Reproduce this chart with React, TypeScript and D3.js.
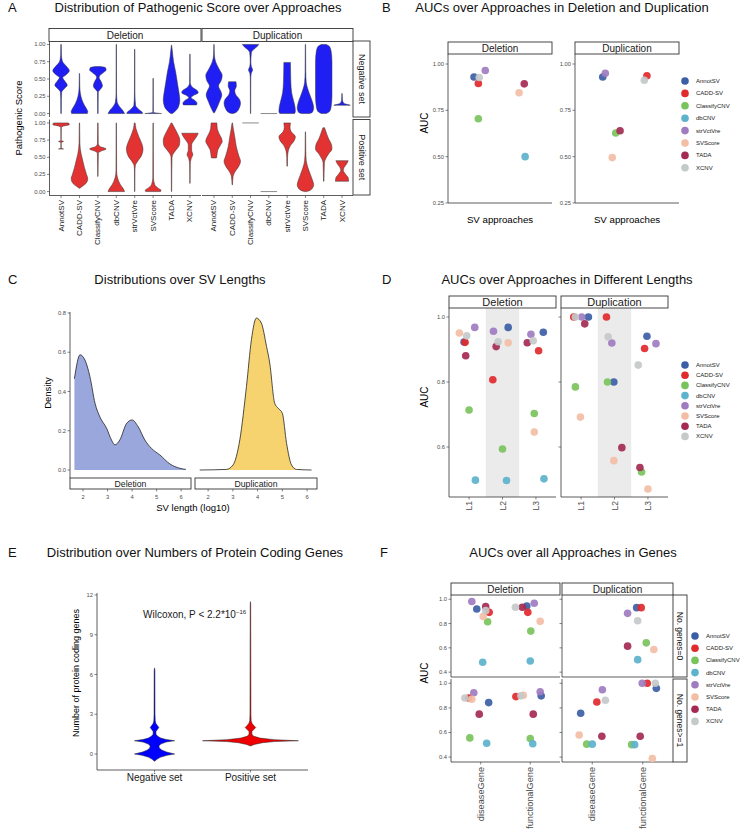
import React from 'react';
import * as d3 from 'd3';

// ---- shared categories ----
const approaches = ['AnnotSV', 'CADD-SV', 'ClassifyCNV', 'dbCNV', 'strVctVre', 'SVScore', 'TADA', 'XCNV'];
const approachColors = ['#3c5ea6', '#e12a2c', '#79c35c', '#5db2cc', '#9f7cc0', '#f2bea6', '#a52a52', '#c4c9c9'];
const svTypes = ['Deletion', 'Duplication'];
const setNames = ['Negative set', 'Positive set'];

// ---- A: violin profiles [score, relative density] per approach ----
const scoreDelNeg = [
  [[1.0, 0.03], [0.85, 0.05], [0.76, 0.15], [0.69, 0.6], [0.62, 1.0], [0.56, 0.6], [0.52, 0.2], [0.47, 0.45], [0.41, 0.75], [0.36, 0.4], [0.31, 0.08], [0.2, 0.04], [0, 0.03]],
  [[0.58, 0.02], [0.4, 0.04], [0.3, 0.1], [0.2, 0.3], [0.12, 0.6], [0.06, 0.9], [0.03, 1.0], [0, 0.95]],
  [[0.68, 0.3], [0.665, 0.9], [0.63, 1.0], [0.6, 0.75], [0.55, 0.25], [0.52, 0.15], [0.46, 0.4], [0.4, 0.55], [0.35, 0.3], [0.31, 0.05], [0, 0.03]],
  [[1.0, 0.02], [0.3, 0.03], [0.17, 0.1], [0.1, 0.4], [0.05, 0.75], [0, 1.0]],
  [[0.93, 0.02], [0.3, 0.03], [0.12, 0.1], [0.06, 0.5], [0.02, 0.9], [0, 0.95]],
  [[0.51, 0.02], [0.02, 0.03], [0.005, 0.6], [0, 1.0]],
  [[0.99, 0.02], [0.9, 0.1], [0.75, 0.25], [0.6, 0.5], [0.45, 0.7], [0.3, 0.9], [0.2, 1.0], [0.1, 0.85], [0.04, 0.5], [0, 0.1]],
  [[0.86, 0.02], [0.45, 0.04], [0.38, 0.3], [0.33, 0.9], [0.3, 1.0], [0.26, 0.4], [0.23, 0.15], [0.19, 0.6], [0.15, 0.85], [0.125, 0.8]],
];
const scoreDelPos = [
  [[1.0, 0.9], [0.975, 1.0], [0.955, 0.3], [0.93, 0.03], [0.745, 0.02], [0.73, 0.3], [0.715, 0.02], [0.63, 0.02], [0.62, 0.3]],
  [[1.0, 0.02], [0.7, 0.05], [0.55, 0.2], [0.45, 0.4], [0.35, 0.6], [0.25, 0.85], [0.19, 1.0], [0.12, 0.8], [0.08, 0.4], [0.05, 0.05]],
  [[1.0, 0.03], [0.7, 0.05], [0.66, 0.2], [0.62, 1.0], [0.59, 0.4], [0.56, 0.06], [0.22, 0.02]],
  [[1.0, 0.02], [0.3, 0.04], [0.2, 0.15], [0.1, 0.5], [0.04, 0.85], [0, 1.0]],
  [[1.0, 0.05], [0.92, 0.15], [0.8, 0.5], [0.7, 0.85], [0.62, 1.0], [0.52, 0.8], [0.45, 0.4], [0.38, 0.08], [0.3, 0.03], [0, 0.02]],
  [[1.0, 0.02], [0.2, 0.04], [0.1, 0.2], [0.05, 0.6], [0.02, 0.95], [0, 0.9]],
  [[1.0, 0.05], [0.92, 0.4], [0.85, 0.7], [0.75, 1.0], [0.68, 0.95], [0.6, 0.5], [0.55, 0.2], [0.5, 0.06], [0.3, 0.03], [0, 0.02]],
  [[0.85, 1.0], [0.8, 0.8], [0.74, 0.45], [0.68, 0.2], [0.6, 0.2], [0.54, 0.35], [0.48, 0.15], [0.4, 0.04], [0.12, 0.02]],
];
const scoreDupNeg = [
  [[1.0, 0.02], [0.85, 0.05], [0.75, 0.2], [0.65, 0.6], [0.55, 1.0], [0.47, 0.85], [0.4, 0.55], [0.33, 0.8], [0.27, 0.95], [0.18, 0.7], [0.08, 0.35], [0.01, 0.05]],
  [[0.46, 0.45], [0.4, 0.5], [0.33, 0.3], [0.28, 0.4], [0.2, 0.9], [0.15, 1.0], [0.08, 0.85], [0.02, 0.5], [0, 0.1]],
  [[1.0, 1.0], [0.97, 0.8], [0.93, 0.4], [0.88, 0.1], [0.75, 0.04], [0.68, 0.1], [0.63, 0.25], [0.58, 0.08], [0.5, 0.03], [0, 0.02]],
  [[0, 1.0]],
  [[0.74, 0.4], [0.6, 0.42], [0.45, 0.45], [0.3, 0.55], [0.2, 0.75], [0.1, 0.95], [0.03, 1.0], [0, 0.9]],
  [[1.0, 0.02], [0.6, 0.04], [0.45, 0.1], [0.35, 0.3], [0.25, 0.6], [0.15, 0.9], [0.08, 1.0], [0.02, 0.85], [0, 0.5]],
  [[1.0, 0.3], [0.97, 0.7], [0.9, 0.9], [0.75, 1.0], [0.5, 1.0], [0.25, 1.0], [0.1, 0.9], [0.03, 0.7], [0, 0.3]],
  [[0.29, 0.02], [0.2, 0.05], [0.15, 0.2], [0.13, 0.7], [0.12, 1.0]],
];
const scoreDupPos = [
  [[1.0, 0.35], [0.92, 0.4], [0.85, 0.6], [0.78, 0.9], [0.73, 1.0], [0.68, 0.8], [0.6, 0.45], [0.52, 0.35], [0.49, 0.3]],
  [[1.0, 0.03], [0.9, 0.15], [0.8, 0.3], [0.65, 0.5], [0.52, 0.8], [0.44, 1.0], [0.37, 0.8], [0.3, 0.4], [0.22, 0.1], [0.1, 0.03]],
  [[1.0, 1.0]],
  [[0, 1.0]],
  [[1.0, 0.4], [0.93, 0.35], [0.87, 0.5], [0.8, 1.0], [0.74, 0.85], [0.67, 0.4], [0.6, 0.15], [0.5, 0.05], [0.37, 0.03]],
  [[0.87, 0.02], [0.6, 0.04], [0.45, 0.1], [0.35, 0.3], [0.25, 0.6], [0.15, 0.9], [0.1, 1.0], [0.05, 0.85], [0.01, 0.4], [0, 0.1]],
  [[0.93, 0.1], [0.88, 0.25], [0.78, 0.55], [0.68, 0.95], [0.62, 1.0], [0.55, 0.6], [0.48, 0.25], [0.42, 0.08], [0.15, 0.03]],
  [[0.45, 0.75], [0.4, 0.55], [0.35, 0.25], [0.31, 0.15], [0.25, 0.45], [0.2, 0.75], [0.15, 0.8]],
];
const scoreTicks = [0, 0.25, 0.5, 0.75, 1];

// ---- B: AUC per approach (null = not shown), jitter in x units ----
const aucDeletion = [0.93, 0.895, 0.705, 0.5, 0.965, 0.845, 0.893, 0.927];
const jitterDeletion = [-0.3, -0.25, -0.25, 0.29, -0.17, 0.22, 0.28, -0.24];
const aucDuplication = [0.93, 0.937, 0.628, null, 0.95, 0.495, 0.64, 0.912];
const jitterDuplication = [-0.28, 0.23, -0.13, 0, -0.25, -0.17, -0.08, 0.2];
const aucTicks = [0.25, 0.5, 0.75, 1];

// ---- C: density of log10 SV length ----
const lengthDensityDeletion = [[1.65, 0.465], [1.88, 0.587], [2.08, 0.56], [2.28, 0.477], [2.49, 0.34], [2.69, 0.27], [2.96, 0.213], [3.16, 0.153], [3.3, 0.128], [3.5, 0.153], [3.78, 0.238], [4.0, 0.255], [4.25, 0.22], [4.52, 0.153], [4.79, 0.11], [5.13, 0.077], [5.54, 0.031], [5.94, 0.009], [6.19, 0.003]];
const lengthDensityDuplication = [[1.66, 0], [2.74, 0.003], [3.01, 0.026], [3.28, 0.153], [3.55, 0.426], [3.75, 0.664], [3.95, 0.774], [4.15, 0.749], [4.36, 0.63], [4.49, 0.545], [4.69, 0.34], [4.83, 0.315], [5.0, 0.289], [5.17, 0.136], [5.37, 0.026], [5.57, 0.003], [6.18, 0]];
const densityTicks = [0, 0.2, 0.4, 0.6, 0.8];
const lengthTicks = [2, 3, 4, 5, 6];

// ---- D: AUC by SV length bin ----
const lengthBins = ['L1', 'L2', 'L3'];
const aucLenDeletion = [
  [0.923, 0.922, 0.714, 0.498, 0.968, 0.951, 0.881, 0.942],
  [0.968, 0.807, 0.594, 0.497, 0.956, 0.921, 0.909, 0.924],
  [0.953, 0.896, 0.703, 0.502, 0.947, 0.646, 0.921, 0.927],
];
const jitterLenDeletion = [
  [-0.15, -0.12, 0, 0.19, 0.17, -0.29, -0.1, -0.07],
  [0.17, -0.29, 0, 0.12, -0.27, 0.17, -0.19, -0.13],
  [0.22, 0.08, -0.05, 0.24, -0.15, -0.05, -0.26, -0.08],
];
const aucLenDuplication = [
  [1.0, 1.0, 0.785, null, 1.0, 0.692, 0.979, 1.0],
  [0.8, 1.0, 0.8, null, 0.92, 0.558, 0.598, 0.939],
  [0.941, 0.903, 0.523, null, 0.918, 0.471, 0.537, 0.852],
];
const jitterLenDuplication = [
  [0.22, -0.22, -0.17, 0, 0.02, -0.02, 0.11, -0.17],
  [-0.02, -0.24, -0.21, 0, -0.08, -0.02, 0.22, -0.19],
  [-0.03, -0.1, -0.19, 0, 0.24, 0, -0.24, -0.29],
];
const aucLenTicks = [0.6, 0.8, 1.0];

// ---- E: number of protein coding genes, violin profiles [count, relative density] ----
const geneSets = ['Negative set', 'Positive set'];
const geneCountNegative = [[6.5, 0.0], [6.3, 0.008], [3.0, 0.01], [2.5, 0.015], [2.3, 0.03], [2.15, 0.06], [2.0, 0.09], [1.85, 0.06], [1.7, 0.03], [1.5, 0.03], [1.35, 0.06], [1.2, 0.13], [1.1, 0.24], [1.0, 0.42], [0.9, 0.24], [0.75, 0.13], [0.6, 0.09], [0.45, 0.1], [0.3, 0.15], [0.15, 0.25], [0.0, 0.42], [-0.1, 0.26], [-0.25, 0.12], [-0.4, 0.05], [-0.55, 0.0]];
const geneCountPositive = [[11.5, 0.0], [11.3, 0.005], [3.0, 0.01], [2.5, 0.015], [2.3, 0.035], [2.15, 0.07], [2.0, 0.11], [1.85, 0.07], [1.7, 0.03], [1.5, 0.03], [1.35, 0.06], [1.2, 0.2], [1.08, 0.5], [1.0, 1.0], [0.94, 0.5], [0.85, 0.25], [0.72, 0.08], [0.6, 0.0]];
const geneCountTicks = [0, 3, 6, 9, 12];

// ---- F: AUC in gene categories ----
const geneTypes = ['diseaseGene', 'functionalGene'];
const geneGroups = ['No. genes=0', 'No. genes>=1'];
const aucGenesDelZero = [
  [0.92, 0.892, 0.815, 0.481, 0.981, 0.857, 0.939, 0.906],
  [0.945, 0.892, 0.738, 0.492, 0.967, 0.818, 0.934, 0.934],
];
const jitterGenesDelZero = [
  [-0.08, 0.17, 0.14, 0.04, -0.18, 0.05, 0.1, 0.1],
  [-0.07, -0.05, 0.01, 0, 0.08, 0.2, -0.16, -0.3],
];
const aucGenesDupZero = [
  [null, null, null, null, null, null, null, null],
  [0.931, 0.931, 0.641, 0.503, 0.884, 0.586, 0.614, 0.823],
];
const jitterGenesDupZero = [
  [0, 0, 0, 0, 0, 0, 0, 0],
  [-0.12, -0.03, 0.07, -0.1, -0.3, 0.22, -0.3, -0.1],
];
const aucGenesDelSome = [
  [0.843, 0.881, 0.556, 0.512, 0.923, 0.87, 0.749, 0.881],
  [0.898, 0.892, 0.551, 0.509, 0.931, 0.903, 0.749, 0.898],
];
const jitterGenesDelSome = [
  [0.16, -0.24, -0.22, 0.12, -0.14, -0.18, -0.03, -0.32],
  [0.22, -0.29, 0, 0.05, 0.2, -0.14, 0.06, -0.19],
];
const aucGenesDupSome = [
  [0.757, 0.848, 0.505, 0.505, 0.948, 0.579, 0.57, 0.862],
  [0.959, 1.0, 0.501, 0.501, 1.0, 0.388, 0.57, 1.0],
];
const jitterGenesDupSome = [
  [-0.23, 0.09, -0.11, 0, 0.2, -0.26, 0.19, 0.26],
  [0.27, 0.09, -0.22, -0.16, -0.01, 0.19, -0.05, 0.25],
];
const aucGeneTicks = [0.4, 0.6, 0.8, 1.0];

// ---- styling ----
const FONT = 'Liberation Sans, Arial, Helvetica, sans-serif';
const TICK = '#4d4d4d';
const LINE = '#333333';
const PT_R = 3.8;
const TICK_SIZE = 5.8;
const TITLE_SIZE = 13;

const violinPath = (profile, cx, hw, y, curve = d3.curveMonotoneY) => {
  const pts = [...profile].sort((a, b) => b[0] - a[0]);
  return d3.area()
    .y(d => y(d[0]))
    .x0(d => cx - d[1] * hw)
    .x1(d => cx + d[1] * hw)
    .curve(curve)(pts);
};

const Violin = ({ profile, cx, hw, y, fill }) => {
  if (profile.length === 1) {
    const yy = y(profile[0][0]);
    return <line x1={cx - hw} x2={cx + hw} y1={yy} y2={yy} stroke="#8c8c8c" strokeWidth={1} />;
  }
  return <path d={violinPath(profile, cx, hw, y)} fill={fill} stroke="#333" strokeWidth={0.5} />;
};

const Strip = ({ x0, x1, y0, y1, label, size = 10, vertical = false }) => (
  <g>
    <rect x={x0} y={y0} width={x1 - x0} height={y1 - y0} fill="#fff" stroke={LINE} strokeWidth={0.9} />
    <text
      transform={`translate(${(x0 + x1) / 2},${(y0 + y1) / 2})${vertical ? ' rotate(90)' : ''}`}
      textAnchor="middle" dominantBaseline="central" fontSize={size} fill="#1a1a1a">{label}</text>
  </g>
);

const YAxis = ({ x, y, ticks, fmt, y0, y1, labels = true }) => (
  <g>
    <line x1={x} x2={x} y1={y0} y2={y1} stroke={LINE} strokeWidth={0.8} />
    {ticks.map(t => (
      <g key={t}>
        <line x1={x - 2.5} x2={x} y1={y(t)} y2={y(t)} stroke={LINE} strokeWidth={0.6} />
        {labels && <text x={x - 4} y={y(t)} textAnchor="end" dominantBaseline="central" fontSize={TICK_SIZE} fill={TICK}>{fmt(t)}</text>}
      </g>
    ))}
  </g>
);

const Legend = ({ x, y, dy }) => (
  <g>
    {approaches.map((a, i) => (
      <g key={a}>
        <circle cx={x} cy={y + i * dy} r={PT_R} fill={approachColors[i]} />
        <text x={x + 11} y={y + i * dy} dominantBaseline="central" fontSize={6} fill="#1a1a1a">{a}</text>
      </g>
    ))}
  </g>
);

const Dots = ({ values, jitter, cx, unit, y }) => (
  <g>
    {values.map((v, i) => v === null ? null : (
      <circle key={i} cx={cx + jitter[i] * unit} cy={y(v)} r={PT_R} fill={approachColors[i]} fillOpacity={0.92} />
    ))}
  </g>
);

const Title = ({ letter, lx, text, cx, y }) => (
  <g fontSize={TITLE_SIZE} fill="#111">
    <text x={lx} y={y}>{letter}</text>
    <text x={cx} y={y} textAnchor="middle">{text}</text>
  </g>
);

function PanelA() {
  const cols = [[50, 201], [203, 353]];
  const rows = [[41, 117], [119.5, 195]];
  const profiles = [[scoreDelNeg, scoreDelPos], [scoreDupNeg, scoreDupPos]];
  const fills = ['#1f1ff4', '#e23232'];
  const fmt = d3.format('.2f');
  return (
    <g>
      <Title letter="A" lx={8} text="Distribution of Pathogenic Score over Approaches" cx={198} y={12} />
      <text transform="translate(18,118) rotate(-90)" textAnchor="middle" dominantBaseline="central" fontSize={9.5}>Pathogenic Score</text>
      {cols.map((c, ci) => {
        const x = d3.scalePoint().domain(approaches).range(c).padding(0.6);
        const hw = x.step() * 0.45;
        return (
          <g key={ci}>
            <Strip x0={c[0] - 1} x1={c[1]} y0={28.5} y1={41.5} label={svTypes[ci]} />
            {rows.map((r, ri) => {
              const y = d3.scaleLinear().domain([-0.05, 1.05]).range([r[1], r[0]]);
              return (
                <g key={ri}>
                  {ci === 0 && <YAxis x={49.5} y={y} ticks={scoreTicks} fmt={fmt} y0={r[0]} y1={r[1]} />}
                  {approaches.map((a, ai) => (
                    <Violin key={a} profile={profiles[ci][ri][ai]} cx={x(a)} hw={hw} y={y} fill={fills[ri]} />
                  ))}
                  {ci === 1 && <Strip x0={353} x1={370} y0={r[0]} y1={r[1]} label={setNames[ri]} size={9} vertical />}
                </g>
              );
            })}
            <line x1={c[0] - 1} x2={c[1]} y1={195.5} y2={195.5} stroke={LINE} strokeWidth={0.8} />
            {approaches.map(a => (
              <g key={a}>
                <line x1={x(a)} x2={x(a)} y1={195.5} y2={198} stroke={LINE} strokeWidth={0.6} />
                <text transform={`translate(${x(a)},200) rotate(-90)`} textAnchor="end" dominantBaseline="central" fontSize={8} fill="#1a1a1a">{a}</text>
              </g>
            ))}
          </g>
        );
      })}
    </g>
  );
}

function PanelB() {
  const cols = [[448, 552], [575, 679]];
  const vals = [[aucDeletion, jitterDeletion], [aucDuplication, jitterDuplication]];
  const y = d3.scaleLinear().domain([0.25, 1.054]).range([203, 54]);
  const fmt = d3.format('.2f');
  return (
    <g>
      <Title letter="B" lx={382} text="AUCs over Approaches in Deletion and Duplication" cx={562} y={12} />
      <text transform="translate(424,123) rotate(-90)" textAnchor="middle" dominantBaseline="central" fontSize={10}>AUC</text>
      {cols.map((c, ci) => {
        const x = d3.scaleLinear().domain([0.4, 1.6]).range(c);
        return (
          <g key={ci}>
            <Strip x0={c[0]} x1={c[1]} y0={42} y1={54} label={svTypes[ci]} />
            <YAxis x={c[0]} y={y} ticks={aucTicks} fmt={fmt} y0={54} y1={203} />
            <line x1={c[0]} x2={c[1]} y1={203} y2={203} stroke={LINE} strokeWidth={0.8} />
            <Dots values={vals[ci][0]} jitter={vals[ci][1]} cx={x(1)} unit={x(1) - x(0)} y={y} />
            <text x={(c[0] + c[1]) / 2} y={219} textAnchor="middle" dominantBaseline="central" fontSize={9.7}>SV approaches</text>
          </g>
        );
      })}
      <Legend x={685} y={81} dy={12.4} />
    </g>
  );
}

function PanelC() {
  const cols = [[70, 191], [195, 317]];
  const curves = [lengthDensityDeletion, lengthDensityDuplication];
  const fills = ['#9aa7dd', '#f6d36f'];
  const y = d3.scaleLinear().domain([0, 0.8]).range([470, 313]);
  const fmt = d3.format('.1f');
  return (
    <g>
      <Title letter="C" lx={8} text="Distributions over SV Lengths" cx={180} y={284} />
      <text transform="translate(47,393) rotate(-90)" textAnchor="middle" dominantBaseline="central" fontSize={9.5}>Density</text>
      <YAxis x={70} y={y} ticks={densityTicks} fmt={fmt} y0={312} y1={478} />
      {cols.map((c, ci) => {
        const x = d3.scaleLinear().domain([1.47, 6.4]).range(c);
        const area = d3.area().x(d => x(d[0])).y0(y(0)).y1(d => y(d[1])).curve(d3.curveMonotoneX);
        const line = d3.line().x(d => x(d[0])).y(d => y(d[1])).curve(d3.curveMonotoneX);
        return (
          <g key={ci}>
            <path d={area(curves[ci])} fill={fills[ci]} />
            <path d={line(curves[ci])} fill="none" stroke="#222" strokeWidth={0.8} />
            <Strip x0={c[0]} x1={c[1]} y0={478} y1={489} label={svTypes[ci]} size={8.7} />
            {lengthTicks.map(t => (
              <g key={t}>
                <line x1={x(t)} x2={x(t)} y1={489} y2={491.5} stroke={LINE} strokeWidth={0.6} />
                <text x={x(t)} y={496.5} textAnchor="middle" dominantBaseline="central" fontSize={TICK_SIZE} fill={TICK}>{t}</text>
              </g>
            ))}
          </g>
        );
      })}
      <text x={193} y={507} textAnchor="middle" dominantBaseline="central" fontSize={9.5}>SV length (log10)</text>
    </g>
  );
}

function PanelD() {
  const cols = [[449, 556], [561, 668]];
  const vals = [[aucLenDeletion, jitterLenDeletion], [aucLenDuplication, jitterLenDuplication]];
  const y = d3.scaleLinear().domain([0.6, 1.0]).range([447, 317]);
  const fmt = d3.format('.1f');
  return (
    <g>
      <Title letter="D" lx={382} text="AUCs over Approaches in Different Lengths" cx={567} y={284} />
      <text transform="translate(424,397) rotate(-90)" textAnchor="middle" dominantBaseline="central" fontSize={10}>AUC</text>
      {cols.map((c, ci) => {
        const x = d3.scalePoint().domain(lengthBins).range(c).padding(0.6);
        const s = x.step();
        return (
          <g key={ci}>
            <rect x={x('L2') - s / 2} y={308} width={s} height={189} fill="#ebebeb" />
            <Strip x0={c[0]} x1={c[1]} y0={296} y1={308} label={svTypes[ci]} size={11} />
            <YAxis x={c[0]} y={y} ticks={aucLenTicks} fmt={fmt} y0={308} y1={497} labels={ci === 0} />
            <line x1={c[0]} x2={c[1]} y1={497} y2={497} stroke={LINE} strokeWidth={0.8} />
            {lengthBins.map((b, bi) => (
              <g key={b}>
                <Dots values={vals[ci][0][bi]} jitter={vals[ci][1][bi]} cx={x(b)} unit={s} y={y} />
                <line x1={x(b)} x2={x(b)} y1={497} y2={499.5} stroke={LINE} strokeWidth={0.6} />
                <text transform={`translate(${x(b)},501) rotate(-90)`} textAnchor="end" dominantBaseline="central" fontSize={8.5} fill={TICK}>{b}</text>
              </g>
            ))}
          </g>
        );
      })}
      <Legend x={685} y={365} dy={10.2} />
    </g>
  );
}

function PanelE() {
  const x = d3.scalePoint().domain(geneSets).range([97, 308]).padding(0.6);
  const y = d3.scaleLinear().domain([0, 12]).range([754, 595]);
  const hw = x.step() * 0.5;
  const profiles = [geneCountNegative, geneCountPositive];
  const fills = ['#0000ff', '#ee0000'];
  return (
    <g>
      <Title letter="E" lx={8} text="Distribution over Numbers of Protein Coding Genes" cx={195} y={557} />
      <text transform="translate(76,673) rotate(-90)" textAnchor="middle" dominantBaseline="central" fontSize={9}>Number of protein coding genes</text>
      <YAxis x={97} y={y} ticks={geneCountTicks} fmt={d3.format('d')} y0={593} y1={770} />
      <line x1={97} x2={308} y1={770} y2={770} stroke={LINE} strokeWidth={0.8} />
      {geneSets.map((g, gi) => (
        <g key={g}>
          <path d={violinPath(profiles[gi], x(g), hw, y, d3.curveLinear)} fill={fills[gi]} stroke="#222" strokeWidth={0.5} />
          <line x1={x(g)} x2={x(g)} y1={770} y2={772.5} stroke={LINE} strokeWidth={0.6} />
          <text x={x(g)} y={777} textAnchor="middle" dominantBaseline="central" fontSize={10} fill="#1a1a1a">{g}</text>
        </g>
      ))}
      <text x={143} y={618} fontSize={10} fill="#1a1a1a">
        Wilcoxon, P &lt; 2.2*10<tspan fontSize={6} dy={-4}>−16</tspan>
      </text>
    </g>
  );
}

function PanelF() {
  const cols = [[451, 560], [562, 673]];
  const rows = [[595, 677], [679, 762]];
  const vals = [
    [[aucGenesDelZero, jitterGenesDelZero], [aucGenesDelSome, jitterGenesDelSome]],
    [[aucGenesDupZero, jitterGenesDupZero], [aucGenesDupSome, jitterGenesDupSome]],
  ];
  const fmt = d3.format('.1f');
  return (
    <g>
      <Title letter="F" lx={380} text="AUCs over all Approaches in Genes" cx={573} y={557} />
      <text transform="translate(424,673) rotate(-90)" textAnchor="middle" dominantBaseline="central" fontSize={10}>AUC</text>
      {cols.map((c, ci) => {
        const x = d3.scalePoint().domain(geneTypes).range(c).padding(0.6);
        const s = x.step();
        return (
          <g key={ci}>
            <Strip x0={c[0]} x1={c[1]} y0={583} y1={595} label={svTypes[ci]} />
            {rows.map((r, ri) => {
              const y = d3.scaleLinear().domain([0.36, 1.035]).range([r[1], r[0]]);
              return (
                <g key={ri}>
                  <YAxis x={c[0]} y={y} ticks={aucGeneTicks} fmt={fmt} y0={r[0]} y1={r[1]} labels={ci === 0} />
                  <line x1={c[0]} x2={c[1]} y1={r[1]} y2={r[1]} stroke={LINE} strokeWidth={0.8} />
                  {geneTypes.map((g, gi) => (
                    <Dots key={g} values={vals[ci][ri][0][gi]} jitter={vals[ci][ri][1][gi]} cx={x(g)} unit={s} y={y} />
                  ))}
                  {ci === 1 && <Strip x0={673} x1={687} y0={r[0]} y1={r[1]} label={geneGroups[ri]} size={8.5} vertical />}
                </g>
              );
            })}
            {geneTypes.map(g => (
              <g key={g}>
                <line x1={x(g)} x2={x(g)} y1={762} y2={764.5} stroke={LINE} strokeWidth={0.6} />
                <text transform={`translate(${x(g)},767) rotate(-90)`} textAnchor="end" dominantBaseline="central" fontSize={9.2} fill={TICK}>{g}</text>
              </g>
            ))}
          </g>
        );
      })}
      <Legend x={695} y={636} dy={12.2} />
    </g>
  );
}

export default function App() {
  return (
    <svg width={744} height={835} style={{ position: 'absolute', left: 0, top: 0, background: '#fff' }} fontFamily={FONT}>
      <rect width={744} height={835} fill="#fff" />
      <PanelA />
      <PanelB />
      <PanelC />
      <PanelD />
      <PanelE />
      <PanelF />
    </svg>
  );
}
